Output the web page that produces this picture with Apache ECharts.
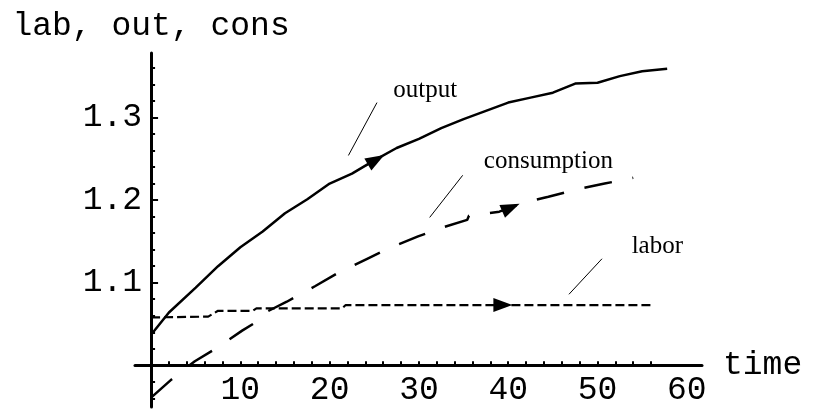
<!DOCTYPE html>
<html><head><meta charset="utf-8">
<script src="https://cdn.jsdelivr.net/npm/echarts@6/dist/echarts.min.js"></script>
<style>html,body{margin:0;padding:0;background:#fff}#c{width:825px;height:414px}</style>
</head><body><div id="c"></div>
<script>
// ---- data ----
const seriesNames = ['output', 'consumption', 'labor'];
const outputData = [[0,1.037],[2,1.064],[5,1.094],[7.5,1.12],[10,1.143],[12.5,1.162],[15,1.184],[17.5,1.201],[20,1.220],[22.5,1.232],[25,1.248],[27.5,1.263],[30,1.274],[32.5,1.287],[35,1.298],[37.5,1.308],[40,1.318],[42.5,1.324],[45,1.330],[47.5,1.341],[50,1.342],[52.5,1.350],[55,1.356],[57.8,1.359]];
const consumptionData = [[0,0.961],[2.3,0.983],[4.9,1.005],[7.5,1.022],[10.2,1.042],[12.6,1.058],[12.8,1.064],[15.2,1.077],[18.4,1.096],[20.8,1.111],[24.2,1.129],[26.5,1.141],[29.9,1.156],[32.7,1.167],[35.4,1.176],[35.6,1.181],[39,1.186],[41.7,1.197],[44.5,1.204],[47.7,1.213],[50.8,1.220],[54,1.227]];
const laborData = [[0,1.058],[6.4,1.059],[7.5,1.066],[11.4,1.066],[11.8,1.069],[21.4,1.069],[21.8,1.073],[56.2,1.073]];
const arrowOutput = [[24,1.2413],[25.2,1.2488]];
const arrowConsumption = [[39.3,1.1863],[40.3,1.191]];
const arrowLabor = [[38.4,1.073],[39.4,1.073]];
const leaderOutput = [[25.3,1.318],[22.1,1.254]];
const leaderConsumption = [[34.9,1.230],[31.2,1.179]];
const leaderLabor = [[50.5,1.129],[46.8,1.086]];
const labelOutput = [30.7,1.3325];
const labelConsumption = [44.5,1.2467];
const labelLabor = [56.7,1.1439];
const xMajorTicks = [10,20,30,40,50,60];
const xMinorTicks = [2,4,6,8,10,12,14,16,18,20,22,24,26,28,30,32,34,36,38,40,42,44,46,48,50,52,54,56];
const yMajorTicks = [1.1,1.2,1.3];
const yMinorTicks = [0.96,0.98,1.02,1.04,1.06,1.08,1.12,1.14,1.16,1.18,1.22,1.24,1.26,1.28,1.32,1.34,1.36];
const xAxisName = 'time';
const yAxisName = 'lab, out, cons';
const xRange = [-1.8, 61.7];
const yRange = [0.9496, 1.378];

// ---- layout ----
const grid = {left:135, right:123, top:53, bottom:7};
const gridW = 825 - grid.left - grid.right;
const gridH = 414 - grid.top - grid.bottom;
const offX = -(0 - xRange[0]) / (xRange[1] - xRange[0]) * gridW;   // y-axis at x=0
const offY = -(1 - yRange[0]) / (yRange[1] - yRange[0]) * gridH;   // x-axis at y=1
const mono = 'Liberation Mono';
const serif = 'Liberation Serif';

function arrowLine(pts){
  return [{coord:pts[0], symbol:'none'}, {coord:pts[1], symbol:'triangle', symbolSize:[14,19]}];
}
function leaderLine(pts){
  return [{coord:pts[0], symbol:'none', lineStyle:{width:1, type:'solid', color:'#000'}},
          {coord:pts[1], symbol:'none'}];
}
function makeSeries(name, data, dash, width, arrow, leader, labelPos){
  return {
    name, type:'line', data, showSymbol:false, symbol:'none',
    lineStyle:{color:'#000', width, type:dash},
    xAxisIndex:0, yAxisIndex:0, z:3,
    markLine:{
      silent:true, animation:false,
      label:{show:false},
      lineStyle:{color:'#000', width:1.5, type:'solid'},
      itemStyle:{color:'#000'},
      data:[arrowLine(arrow), leaderLine(leader)]
    },
    markPoint:{
      silent:true, animation:false,
      symbol:'circle', symbolSize:1, itemStyle:{color:'rgba(0,0,0,0)'},
      label:{show:true, position:'inside', formatter:p=>p.name, color:'#000', fontFamily:serif, fontSize:25},
      data:[{name, coord:labelPos}]
    }
  };
}

const chart = echarts.init(document.getElementById('c'), null, {renderer:'canvas'});
const axisBase = {type:'value', splitLine:{show:false}};
chart.setOption({
  animation:false,
  backgroundColor:'#fff',
  grid:{left:grid.left, right:grid.right, top:grid.top, bottom:grid.bottom, containLabel:false},
  xAxis:[
    Object.assign({}, axisBase, {
      min:xRange[0], max:xRange[1], position:'bottom', offset:offY,
      axisLine:{show:true, onZero:false, lineStyle:{color:'#000', width:3}},
      axisTick:{show:true, inside:true, length:4, customValues:xMinorTicks, lineStyle:{color:'#000', width:2}},
      axisLabel:{show:true, customValues:xMajorTicks, margin:8, color:'#000', fontFamily:mono, fontSize:33},
      name:xAxisName, nameLocation:'end', nameGap:21,
      nameTextStyle:{color:'#000', fontFamily:mono, fontSize:33, verticalAlign:'middle'}
    })
  ],
  yAxis:[
    Object.assign({}, axisBase, {
      min:yRange[0], max:yRange[1], position:'left', offset:offX,
      axisLine:{show:true, onZero:false, lineStyle:{color:'#000', width:3}},
      axisTick:{show:true, inside:true, length:7, customValues:yMajorTicks, lineStyle:{color:'#000', width:2}},
      axisLabel:{show:true, customValues:yMajorTicks, margin:9, color:'#000', fontFamily:mono, fontSize:33,
                 formatter:v=>v.toFixed(1)},
      name:yAxisName, nameLocation:'end', nameGap:10,
      nameTextStyle:{color:'#000', fontFamily:mono, fontSize:33, align:'center'}
    }),
    Object.assign({}, axisBase, {
      min:yRange[0], max:yRange[1], position:'left', offset:offX,
      axisLine:{show:false, onZero:false},
      axisTick:{show:true, inside:true, length:4, customValues:yMinorTicks, lineStyle:{color:'#000', width:2}},
      axisLabel:{show:false}
    })
  ],
  series:[
    makeSeries(seriesNames[0], outputData, 'solid', 2.5, arrowOutput, leaderOutput, labelOutput),
    makeSeries(seriesNames[1], consumptionData, [28,21], 2.5, arrowConsumption, leaderConsumption, labelConsumption),
    makeSeries(seriesNames[2], laborData, [9,4], 2.2, arrowLabor, leaderLabor, labelLabor)
  ]
});
</script></body></html>
